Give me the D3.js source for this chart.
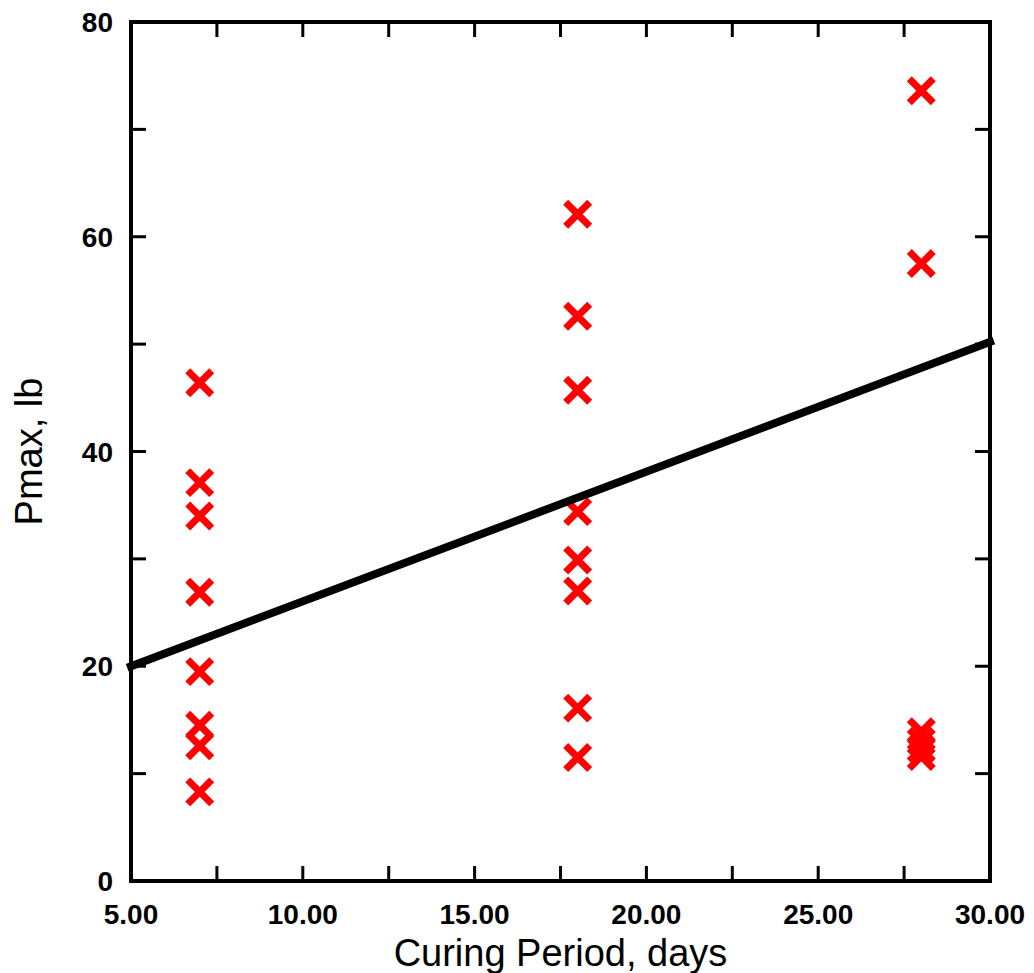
<!DOCTYPE html>
<html>
<head>
<meta charset="utf-8">
<title>Pmax vs Curing Period</title>
<style>
  body { margin: 0; background: #fff; }
  .tick-label { font-family: "Liberation Sans", Arial, sans-serif; font-size: 28px; font-weight: bold; }
  .axis-title { font-family: "Liberation Sans", Arial, sans-serif; font-size: 38px; }
</style>
<script src="https://d3js.org/d3.v7.min.js"></script>
</head>
<body>
<script>
// data
var days7 = [46.4, 37.1, 34.0, 26.9, 19.5, 14.5, 12.6, 8.3];
var days18 = [62.1, 52.6, 45.7, 34.4, 29.9, 27.0, 16.1, 11.5];
var days28 = [73.6, 57.5, 13.9, 13.0, 12.3, 11.6];
var groups = [ {x: 7, ys: days7}, {x: 18, ys: days18}, {x: 28, ys: days28} ];
var fitX = [5, 30];
var fitY = [20.0, 50.2];
var xTicks = [5, 10, 15, 20, 25, 30];
var yTicks = [0, 20, 40, 60, 80];

var width = 1034, height = 973;
var margin = {left: 131, right: 44, top: 22, bottom: 92};

var svg = d3.select("body").append("svg")
    .attr("width", width)
    .attr("height", height);

var x = d3.scaleLinear().domain([5, 30]).range([margin.left, width - margin.right]);
var y = d3.scaleLinear().domain([0, 80]).range([height - margin.bottom, margin.top]);

var pts = [];
groups.forEach(function(g) {
  g.ys.forEach(function(v) { pts.push({x: g.x, y: v}); });
});

// tick marks, inward on all four sides
var tickLen = 15;
var xMinor = d3.range(5, 30.01, 2.5);
var yMinor = d3.range(0, 80.01, 10);
var ticks = svg.append("g").attr("stroke", "#000").attr("stroke-width", 3);
xMinor.forEach(function(t) {
  ticks.append("line").attr("x1", x(t)).attr("x2", x(t))
      .attr("y1", y(0)).attr("y2", y(0) - tickLen);
  ticks.append("line").attr("x1", x(t)).attr("x2", x(t))
      .attr("y1", y(80)).attr("y2", y(80) + tickLen);
});
yMinor.forEach(function(t) {
  ticks.append("line").attr("x1", x(5)).attr("x2", x(5) + tickLen)
      .attr("y1", y(t)).attr("y2", y(t));
  ticks.append("line").attr("x1", x(30)).attr("x2", x(30) - tickLen)
      .attr("y1", y(t)).attr("y2", y(t));
});

// frame
svg.append("rect")
    .attr("x", x(5)).attr("y", y(80))
    .attr("width", x(30) - x(5)).attr("height", y(0) - y(80))
    .attr("fill", "none").attr("stroke", "#000").attr("stroke-width", 4);

// tick labels
svg.selectAll(".xl").data(xTicks).enter().append("text")
    .attr("class", "tick-label")
    .attr("x", function(d) { return x(d); })
    .attr("y", y(0) + 43)
    .attr("text-anchor", "middle")
    .text(function(d) { return d.toFixed(2); });

svg.selectAll(".yl").data(yTicks).enter().append("text")
    .attr("class", "tick-label")
    .attr("x", x(5) - 18)
    .attr("y", function(d) { return y(d); })
    .attr("dy", "0.36em")
    .attr("text-anchor", "end")
    .text(function(d) { return d; });

// axis titles
svg.append("text").attr("class", "axis-title")
    .attr("x", (x(5) + x(30)) / 2)
    .attr("y", 966)
    .attr("text-anchor", "middle")
    .text("Curing Period, days");

svg.append("text").attr("class", "axis-title")
    .attr("transform", "translate(42," + ((y(0) + y(80)) / 2) + ") rotate(-90)")
    .attr("text-anchor", "middle")
    .text("Pmax, lb");

// markers
var s = 12;
var marks = svg.append("g").attr("stroke", "#ff0000").attr("stroke-width", 7);
pts.forEach(function(d) {
  var cx = x(d.x), cy = y(d.y);
  marks.append("path")
      .attr("d", "M" + (cx - s) + "," + (cy - s) + "L" + (cx + s) + "," + (cy + s) +
                 "M" + (cx - s) + "," + (cy + s) + "L" + (cx + s) + "," + (cy - s));
});

// fit line
svg.append("line")
    .attr("x1", x(fitX[0])).attr("y1", y(fitY[0]))
    .attr("x2", x(fitX[1])).attr("y2", y(fitY[1]))
    .attr("stroke", "#000").attr("stroke-width", 8)
    .attr("stroke-linecap", "square");
</script>
</body>
</html>
